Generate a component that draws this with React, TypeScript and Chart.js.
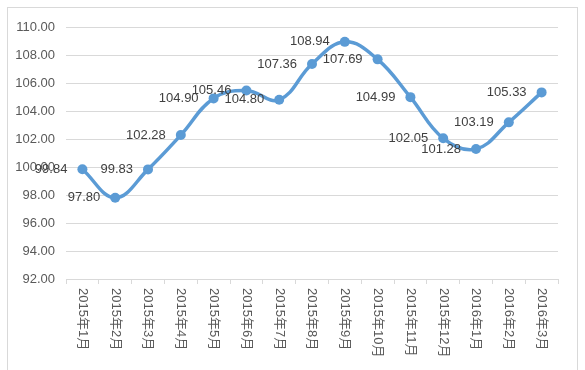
import React, { useEffect, useRef } from "react";
import { Chart, registerables } from "chart.js";

Chart.register(...registerables);

const categories = [
  "2015年1月", "2015年2月", "2015年3月", "2015年4月", "2015年5月",
  "2015年6月", "2015年7月", "2015年8月", "2015年9月", "2015年10月",
  "2015年11月", "2015年12月", "2016年1月", "2016年2月", "2016年3月",
];
const values = [
  99.84, 97.8, 99.83, 102.28, 104.9, 105.46, 104.8, 107.36, 108.94, 107.69,
  104.99, 102.05, 101.28, 103.19, 105.33,
];
const yMin = 92;
const yMax = 110;
const yStep = 2;

const FONT = '"Liberation Sans", "Noto Sans CJK SC", sans-serif';

const frame = {
  id: "frame",
  beforeDraw(chart: any) {
    const ctx = chart.ctx;
    ctx.save();
    ctx.fillStyle = "#ffffff";
    ctx.fillRect(0, 0, chart.width, chart.height);
    ctx.strokeStyle = "#D9D9D9";
    ctx.lineWidth = 1;
    ctx.strokeRect(7.5, 7.5, 570, 420);
    ctx.restore();
  },
};

const xLabels = {
  id: "xLabels",
  afterDraw(chart: any) {
    const ctx = chart.ctx;
    const xs = chart.scales.x;
    ctx.save();
    ctx.font = `13px ${FONT}`;
    ctx.fillStyle = "#595959";
    ctx.textAlign = "left";
    ctx.textBaseline = "middle";
    categories.forEach((lab, i) => {
      const x = xs.getPixelForValue(i);
      ctx.save();
      ctx.translate(x, xs.top + 9);
      ctx.rotate(Math.PI / 2);
      ctx.fillText(lab, 0, 0);
      ctx.restore();
    });
    ctx.restore();
  },
};

const dataLabels = {
  id: "dataLabels",
  afterDatasetsDraw(chart: any) {
    const ctx = chart.ctx;
    const meta = chart.getDatasetMeta(0);
    ctx.save();
    ctx.font = `13px ${FONT}`;
    ctx.fillStyle = "#404040";
    ctx.textAlign = "right";
    ctx.textBaseline = "middle";
    meta.data.forEach((pt: any, i: number) => {
      ctx.fillText(values[i].toFixed(2), pt.x - 15, pt.y);
    });
    ctx.restore();
  },
};

export default function App() {
  const ref = useRef<HTMLCanvasElement>(null);
  useEffect(() => {
    if (!ref.current) return;
    const chart = new Chart(ref.current, {
      type: "line",
      data: {
        labels: categories,
        datasets: [
          {
            data: values,
            borderColor: "#5B9BD5",
            backgroundColor: "#5B9BD5",
            borderWidth: 3.5,
            pointRadius: 5,
            pointBorderWidth: 0,
            pointBackgroundColor: "#5B9BD5",
            tension: 0.4,
            fill: false,
          },
        ],
      },
      options: {
        responsive: false,
        animation: false,
        layout: { padding: { left: 0, right: 27, top: 27, bottom: 0 } },
        plugins: { legend: { display: false }, tooltip: { enabled: false } },
        scales: {
          x: {
            offset: true,
            grid: {
              display: true,
              offset: true,
              drawOnChartArea: false,
              drawTicks: true,
              tickLength: 5,
              color: "#D9D9D9",
            },
            border: { display: true, color: "#D9D9D9" },
            ticks: { display: false },
            afterFit(scale: any) {
              scale.height = 91;
            },
          },
          y: {
            min: yMin,
            max: yMax,
            grid: { color: "#D9D9D9", drawTicks: false },
            border: { display: false },
            ticks: {
              stepSize: yStep,
              padding: 11,
              color: "#595959",
              font: { family: FONT, size: 13 },
              callback: (v: any) => Number(v).toFixed(2),
            },
            afterFit(scale: any) {
              scale.width = 66;
            },
          },
        },
      },
      plugins: [frame, xLabels, dataLabels],
    });
    return () => chart.destroy();
  }, []);
  return (
    <div style={{ position: "fixed", left: 0, top: 0, width: 585, height: 370 }}>
      <canvas ref={ref} width={585} height={370} style={{ width: 585, height: 370 }} />
    </div>
  );
}
